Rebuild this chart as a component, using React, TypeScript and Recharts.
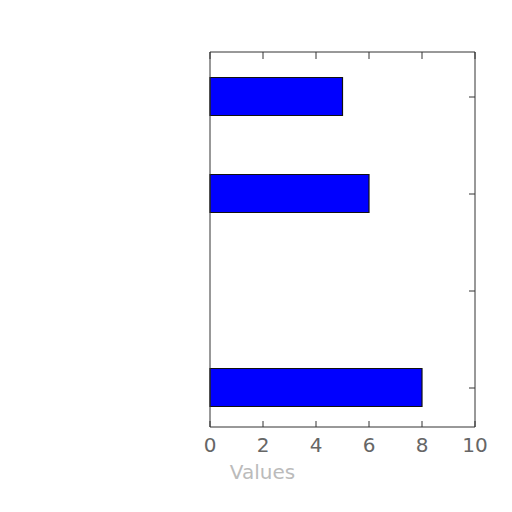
import { BarChart, Bar, XAxis, YAxis } from 'recharts';

const positions = [0, 1, 2, 3];
const values = [5, 6, 0, 8];
const xTicks = [0, 2, 4, 6, 8, 10];
const yTicks = [0, 1, 2, 3];

const data = positions.map((pos, i) => ({ pos, value: values[i] }));

const App = () => {
    return (
        <BarChart
            width={500}
            height={500}
            data={data}
            layout="vertical"
            margin={{ top: 43, right: 32, bottom: 51, left: 201 }}
        >
            <XAxis
                type="number"
                domain={[0, 10]}
                ticks={xTicks}
                height={30}
                stroke="#333"
                tickSize={-6}
                tickMargin={17}
                tick={{ fill: '#666', fontSize: 20, fontFamily: 'DejaVu Sans' }}
                label={{ value: 'Values', position: 'bottom', offset: 8, dx: -80, fill: '#bbb', fontSize: 20, fontFamily: 'DejaVu Sans' }}
            />
            <XAxis
                xAxisId="top"
                orientation="top"
                type="number"
                domain={[0, 10]}
                ticks={xTicks}
                allowDataOverflow
                interval={0}
                height={1}
                stroke="#333"
                tickSize={-7}
                tickFormatter={() => ''}
            />
            <YAxis
                type="number"
                dataKey="pos"
                orientation="right"
                domain={[-0.464, 3.402]}
                ticks={yTicks}
                allowDataOverflow
                width={1}
                stroke="#333"
                tickSize={-6}
                tickFormatter={() => ''}
            />
            <YAxis
                yAxisId="left"
                type="number"
                orientation="left"
                domain={[-0.464, 3.402]}
                ticks={yTicks}
                allowDataOverflow
                width={1}
                stroke="#333"
                tickLine={false}
                tickFormatter={() => ''}
            />
            <Bar dataKey="value" fill="#0000ff" stroke="#111" strokeWidth={1.2} barSize={38} isAnimationActive={false} />
        </BarChart>
    );
};

export default App;
